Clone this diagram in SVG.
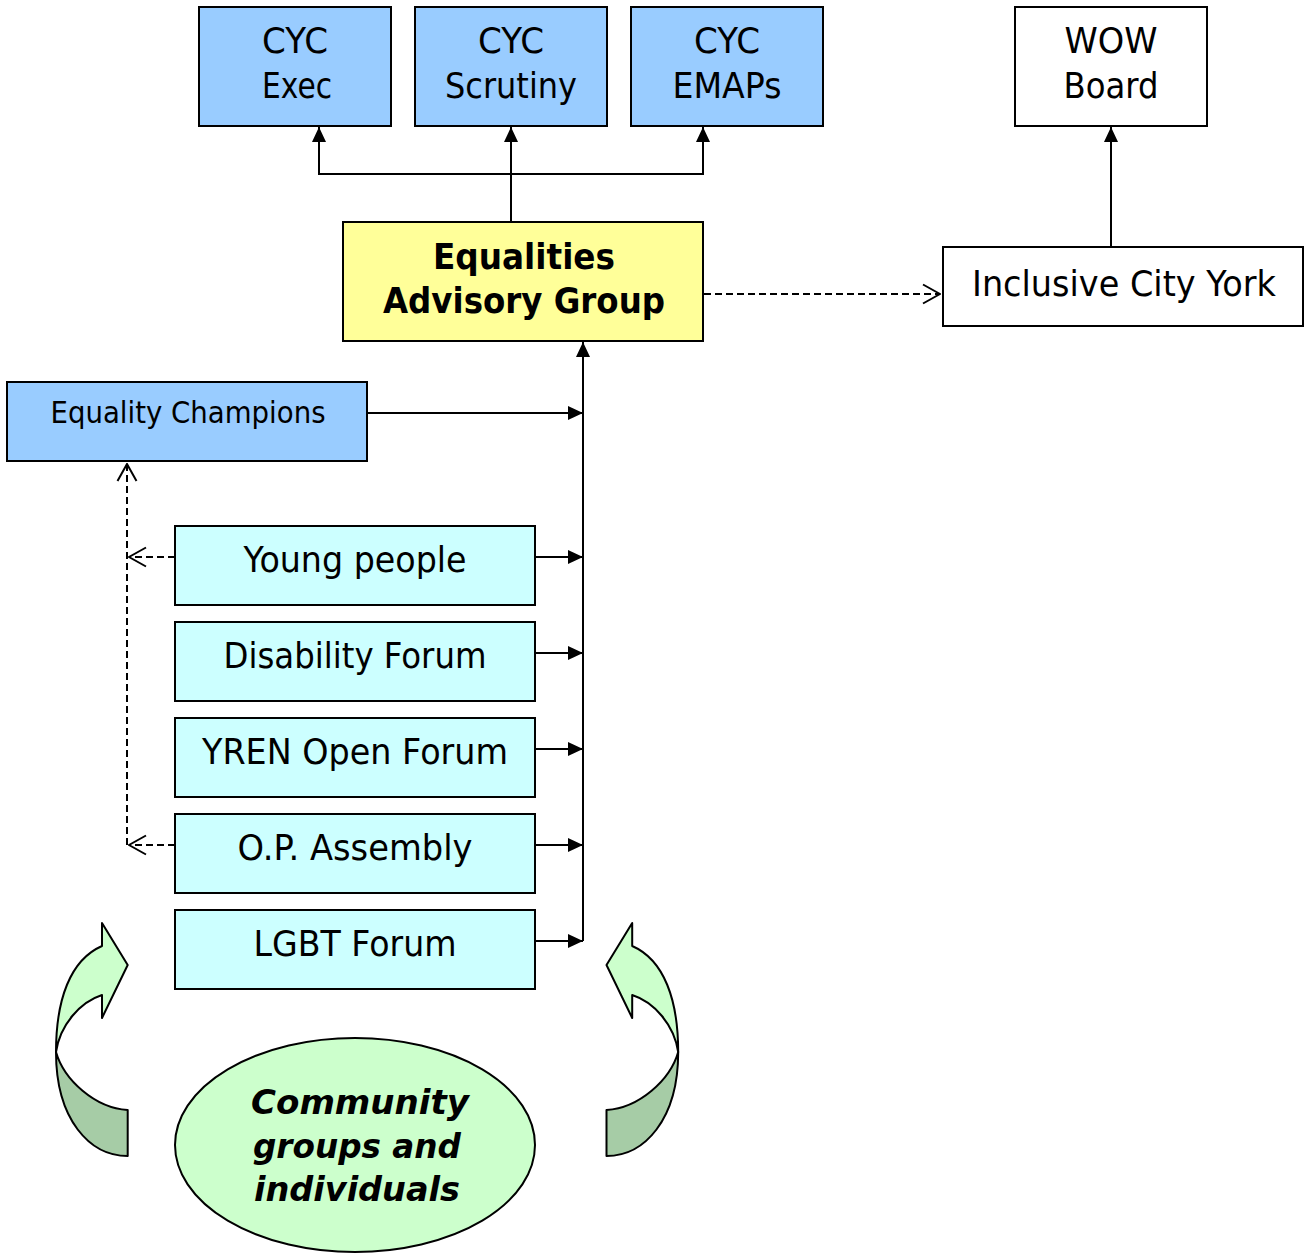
<svg xmlns="http://www.w3.org/2000/svg" width="1306" height="1254" viewBox="0 0 1306 1254">
<style>
.box{stroke:#000;stroke-width:2}
.blue{fill:#99CCFF}.yellow{fill:#FFFF99}.cyan{fill:#CCFFFF}.white{fill:#FFFFFF}
.t{font-family:"DejaVu Sans","Liberation Sans",sans-serif;font-size:36px;text-anchor:middle;fill:#000}
.s{font-size:31px}
.b{font-weight:bold;font-size:35px}
.bi{font-weight:bold;font-style:italic;font-size:33px}
.ln{fill:none;stroke:#000;stroke-width:2}
.dash{fill:none;stroke:#000;stroke-width:2;stroke-dasharray:7 4}
.curve{stroke:#000;stroke-width:2;stroke-linejoin:round}
</style>
<defs>
<marker id="arr" viewBox="0 0 15 15" refX="15" refY="7.5" markerWidth="15" markerHeight="15" orient="auto" markerUnits="userSpaceOnUse"><path d="M0,0.5 L15,7.5 L0,14.5 Z" fill="#000"/></marker>
<marker id="open" viewBox="0 0 19 22" refX="18" refY="11" markerWidth="19" markerHeight="22" orient="auto" markerUnits="userSpaceOnUse"><path d="M1,1.5 L18,11 L1,20.5" fill="none" stroke="#000" stroke-width="2"/></marker>
<g id="curvedArrow">
<path class="curve" fill="#A6CCA6" d="M56,1052 C56,1120 90,1156 127.7,1156 L127.7,1110 C95,1108 64,1080 56,1052 Z"/>
<path class="curve" fill="#CCFFCC" d="M56,1052 C56,1000 70,960 102,946 L102,923 L127.7,965 L102,1018 L102,995 C80,1002 60,1025 56,1052 Z"/>
</g>
</defs>

<g id="connectors">
<line class="ln" x1="511" y1="222" x2="511" y2="127" marker-end="url(#arr)"/>
<polyline class="ln" points="319,127 319,174 703,174 703,127"/>
<line class="ln" x1="319" y1="174" x2="319" y2="127" marker-end="url(#arr)"/>
<line class="ln" x1="703" y1="174" x2="703" y2="127" marker-end="url(#arr)"/>
<line class="ln" x1="1111" y1="247" x2="1111" y2="127" marker-end="url(#arr)"/>
<line class="dash" x1="704" y1="294" x2="940" y2="294" marker-end="url(#open)"/>
<line class="ln" x1="583" y1="941" x2="583" y2="342" marker-end="url(#arr)"/>
<line class="ln" x1="367" y1="413" x2="583" y2="413" marker-end="url(#arr)"/>
<line class="ln" x1="535" y1="557" x2="583" y2="557" marker-end="url(#arr)"/>
<line class="ln" x1="535" y1="653" x2="583" y2="653" marker-end="url(#arr)"/>
<line class="ln" x1="535" y1="749" x2="583" y2="749" marker-end="url(#arr)"/>
<line class="ln" x1="535" y1="845" x2="583" y2="845" marker-end="url(#arr)"/>
<line class="ln" x1="535" y1="941" x2="583" y2="941" marker-end="url(#arr)"/>
<line class="dash" x1="127" y1="845" x2="127" y2="464" marker-end="url(#open)"/>
<line class="dash" x1="175" y1="557" x2="129" y2="557" marker-end="url(#open)"/>
<line class="dash" x1="175" y1="845" x2="129" y2="845" marker-end="url(#open)"/>
</g>

<g id="cyc-exec">
<rect class="box blue" x="199" y="7" width="192" height="119"/>
<text class="t" x="295" y="53" textLength="66" lengthAdjust="spacingAndGlyphs">CYC</text>
<text class="t" x="297" y="98" textLength="70" lengthAdjust="spacingAndGlyphs">Exec</text>
</g>
<g id="cyc-scrutiny">
<rect class="box blue" x="415" y="7" width="192" height="119"/>
<text class="t" x="511" y="53" textLength="66" lengthAdjust="spacingAndGlyphs">CYC</text>
<text class="t" x="511" y="98" textLength="132" lengthAdjust="spacingAndGlyphs">Scrutiny</text>
</g>
<g id="cyc-emaps">
<rect class="box blue" x="631" y="7" width="192" height="119"/>
<text class="t" x="727" y="53" textLength="66" lengthAdjust="spacingAndGlyphs">CYC</text>
<text class="t" x="727" y="98" textLength="109" lengthAdjust="spacingAndGlyphs">EMAPs</text>
</g>
<g id="wow-board">
<rect class="box white" x="1015" y="7" width="192" height="119"/>
<text class="t" x="1111" y="53" textLength="93" lengthAdjust="spacingAndGlyphs">WOW</text>
<text class="t" x="1111" y="98" textLength="95" lengthAdjust="spacingAndGlyphs">Board</text>
</g>
<g id="eag">
<rect class="box yellow" x="343" y="222" width="360" height="119"/>
<text class="t b" x="524" y="269" textLength="182" lengthAdjust="spacingAndGlyphs">Equalities</text>
<text class="t b" x="524" y="313" textLength="282" lengthAdjust="spacingAndGlyphs">Advisory Group</text>
</g>
<g id="inclusive-city-york">
<rect class="box white" x="943" y="247" width="360" height="79"/>
<text class="t" x="1124" y="296" textLength="304" lengthAdjust="spacingAndGlyphs">Inclusive City York</text>
</g>
<g id="equality-champions">
<rect class="box blue" x="7" y="382" width="360" height="79"/>
<text class="t s" x="188" y="423" textLength="275" lengthAdjust="spacingAndGlyphs">Equality Champions</text>
</g>
<g id="young-people">
<rect class="box cyan" x="175" y="526" width="360" height="79"/>
<text class="t" x="355" y="572" textLength="223" lengthAdjust="spacingAndGlyphs">Young people</text>
</g>
<g id="disability-forum">
<rect class="box cyan" x="175" y="622" width="360" height="79"/>
<text class="t" x="355" y="668" textLength="263" lengthAdjust="spacingAndGlyphs">Disability Forum</text>
</g>
<g id="yren-open-forum">
<rect class="box cyan" x="175" y="718" width="360" height="79"/>
<text class="t" x="355" y="764" textLength="306" lengthAdjust="spacingAndGlyphs">YREN Open Forum</text>
</g>
<g id="op-assembly">
<rect class="box cyan" x="175" y="814" width="360" height="79"/>
<text class="t" x="355" y="860" textLength="235" lengthAdjust="spacingAndGlyphs">O.P. Assembly</text>
</g>
<g id="lgbt-forum">
<rect class="box cyan" x="175" y="910" width="360" height="79"/>
<text class="t" x="355" y="956" textLength="203" lengthAdjust="spacingAndGlyphs">LGBT Forum</text>
</g>
<g id="community">
<ellipse cx="355" cy="1145" rx="180" ry="107" fill="#CCFFCC" stroke="#000" stroke-width="2"/>
<text class="t bi" x="360" y="1114" textLength="218" lengthAdjust="spacingAndGlyphs">Community</text>
<text class="t bi" x="357" y="1158" textLength="208" lengthAdjust="spacingAndGlyphs">groups and</text>
<text class="t bi" x="357" y="1201" textLength="206" lengthAdjust="spacingAndGlyphs">individuals</text>
</g>
<g id="curved-arrow-left">
<use href="#curvedArrow"/>
</g>
<g id="curved-arrow-right">
<use href="#curvedArrow" transform="matrix(-1,0,0,1,734.2,0)"/>
</g>
</svg>
